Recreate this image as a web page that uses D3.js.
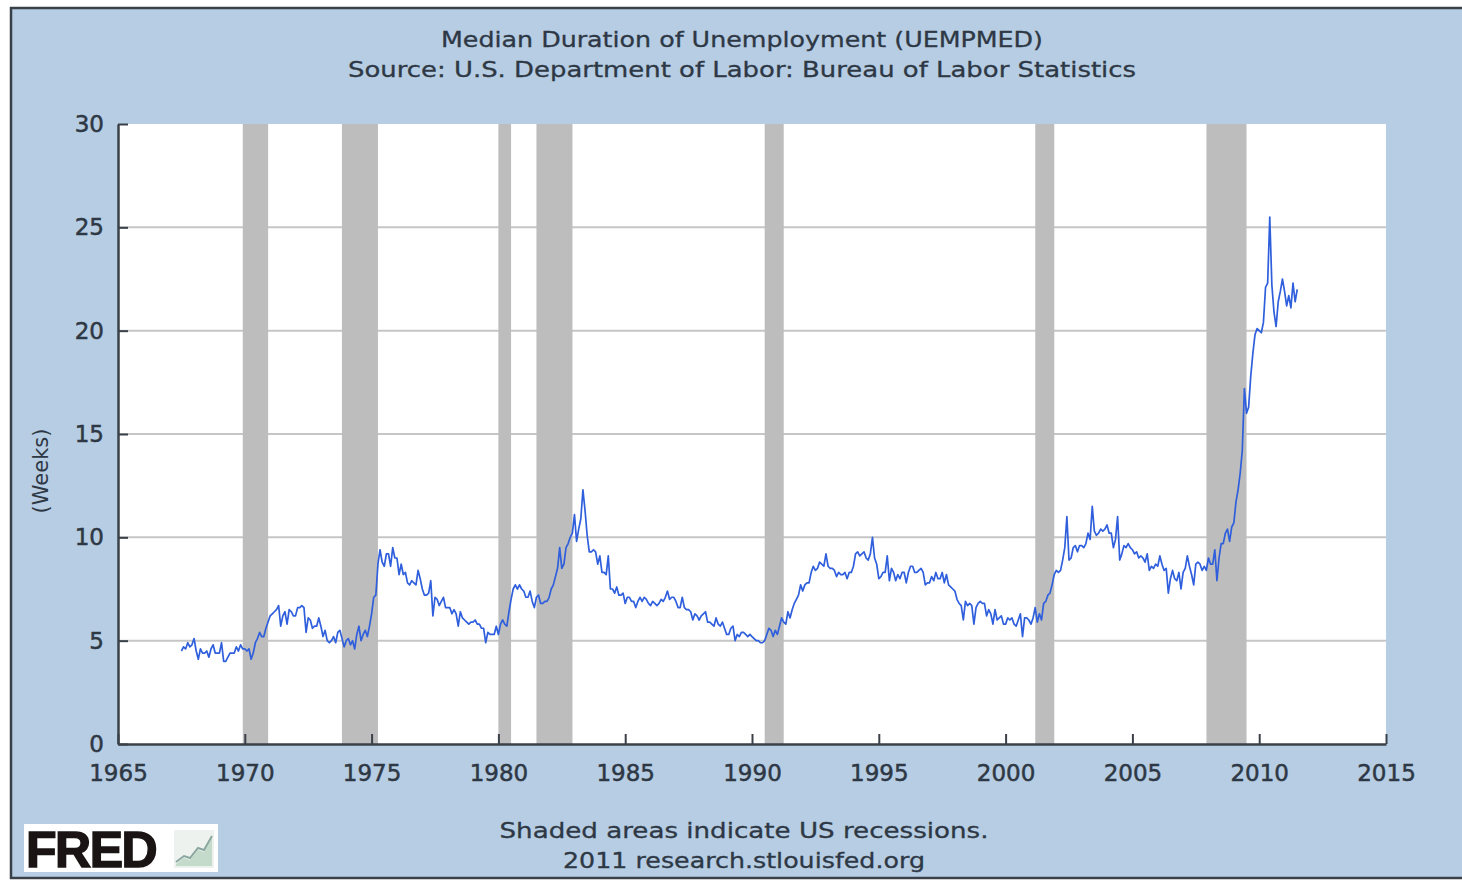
<!DOCTYPE html>
<html>
<head>
<meta charset="utf-8">
<script src="https://cdn.jsdelivr.net/npm/d3@7"></script>
<style>
  html, body { margin: 0; padding: 0; background: #ffffff; }
  svg { display: block; }
</style>
</head>
<body>
<svg id="chart" width="1462" height="880"></svg>
<script>
// ---------------- DATA ----------------
const titleText = "Median Duration of Unemployment (UEMPMED)";
const sourceText = "Source: U.S. Department of Labor: Bureau of Labor Statistics";
const yLabel = "(Weeks)";
const footer1 = "Shaded areas indicate US recessions.";
const footer2 = "2011 research.stlouisfed.org";

const startYear = 1967, startMonth = 7; // first observation: July 1967
const weeks = [
  4.5, 4.7, 4.6, 4.9, 4.7, 4.8,                                  // 1967 Jul-Dec
  5.1, 4.5, 4.1, 4.6, 4.4, 4.4, 4.5, 4.2, 4.6, 4.8, 4.4, 4.4,    // 1968
  4.4, 4.9, 4.0, 4.0, 4.2, 4.4, 4.4, 4.4, 4.7, 4.5, 4.8, 4.6,    // 1969
  4.6, 4.5, 4.6, 4.1, 4.4, 4.9, 5.1, 5.4, 5.2, 5.2, 5.6, 5.9,    // 1970
  6.2, 6.3, 6.4, 6.5, 6.7, 5.7, 6.2, 6.4, 5.8, 6.5, 6.4, 6.2,    // 1971
  6.2, 6.6, 6.6, 6.7, 6.6, 5.4, 6.1, 6.0, 5.6, 5.7, 5.7, 6.1,    // 1972
  5.7, 5.2, 5.5, 5.0, 4.9, 5.0, 5.2, 4.9, 5.4, 5.5, 5.1, 4.7,    // 1973
  5.0, 5.1, 4.8, 5.0, 4.6, 5.3, 5.7, 5.0, 5.3, 5.5, 5.2, 5.7,    // 1974
  6.3, 7.1, 7.2, 8.7, 9.4, 8.8, 8.6, 9.2, 9.2, 8.6, 9.5, 9.0,    // 1975
  9.0, 8.2, 8.7, 8.2, 8.3, 7.8, 7.7, 7.9, 7.8, 7.7, 8.4, 8.0,    // 1976
  7.5, 7.2, 7.2, 7.3, 7.9, 6.2, 7.1, 7.0, 6.7, 6.9, 7.1, 6.6,    // 1977
  6.6, 6.6, 6.3, 6.5, 6.3, 5.7, 6.4, 6.1, 6.0, 5.9, 5.8, 5.9,    // 1978
  5.9, 6.0, 5.8, 5.8, 5.6, 5.6, 4.9, 5.4, 5.3, 5.3, 5.3, 5.7,    // 1979
  5.3, 5.8, 6.0, 5.8, 5.7, 6.4, 7.0, 7.5, 7.7, 7.5, 7.7, 7.5,    // 1980
  7.4, 7.1, 7.1, 7.4, 6.9, 6.6, 7.1, 7.2, 6.8, 6.8, 6.9, 6.9,    // 1981
  7.1, 7.5, 7.7, 8.1, 8.5, 9.5, 8.5, 8.7, 9.5, 9.7, 10.0, 10.2,  // 1982
  11.1, 9.8, 10.4, 10.9, 12.3, 11.3, 10.1, 9.3, 9.3, 9.4, 9.3, 8.7, // 1983
  9.1, 8.3, 8.3, 8.2, 9.1, 7.5, 7.5, 7.3, 7.6, 7.2, 7.2, 7.3,    // 1984
  6.8, 7.1, 7.1, 6.9, 6.9, 6.6, 6.9, 7.1, 6.9, 7.1, 7.0, 6.8,    // 1985
  6.7, 6.9, 6.8, 6.7, 6.8, 7.0, 6.9, 7.1, 7.4, 7.0, 7.1, 7.1,    // 1986
  6.9, 6.6, 6.6, 7.1, 6.6, 6.5, 6.5, 6.4, 6.0, 6.3, 6.2, 6.0,    // 1987
  6.2, 6.3, 6.4, 5.9, 5.9, 5.8, 5.7, 6.1, 5.8, 5.7, 5.9, 5.6,    // 1988
  5.3, 5.3, 5.6, 5.7, 5.0, 5.3, 5.2, 5.4, 5.4, 5.3, 5.2, 5.3,    // 1989
  5.2, 5.1, 5.0, 5.0, 4.9, 4.9, 5.0, 5.3, 5.6, 5.5, 5.2, 5.5,    // 1990
  5.3, 5.7, 6.1, 5.9, 5.8, 6.4, 6.1, 6.5, 6.8, 7.0, 7.2, 7.7,    // 1991
  7.4, 7.7, 7.8, 7.8, 8.3, 8.6, 8.4, 8.5, 8.8, 8.7, 8.6, 9.2,    // 1992
  8.6, 8.5, 8.5, 8.4, 8.1, 8.3, 8.2, 8.2, 8.3, 8.0, 8.3, 8.3,    // 1993
  8.6, 9.2, 9.3, 9.1, 9.2, 9.3, 9.0, 8.9, 9.2, 10.0, 9.0, 8.7,   // 1994
  8.0, 8.1, 8.3, 8.3, 9.1, 7.9, 8.5, 8.3, 7.9, 8.2, 8.0, 8.3,    // 1995
  8.3, 7.8, 8.3, 8.6, 8.6, 8.3, 8.3, 8.4, 8.5, 8.3, 7.7, 7.8,    // 1996
  7.8, 8.1, 7.9, 8.3, 8.0, 8.0, 8.3, 7.8, 8.2, 7.7, 7.6, 7.5,    // 1997
  7.4, 7.0, 6.8, 6.7, 6.0, 6.9, 6.7, 6.8, 6.7, 5.8, 6.6, 6.8,    // 1998
  6.9, 6.8, 6.8, 6.2, 6.5, 6.3, 5.8, 6.5, 6.0, 6.1, 6.2, 5.8,    // 1999
  5.8, 6.1, 6.0, 6.1, 5.8, 5.7, 6.0, 6.3, 5.2, 6.1, 6.1, 6.0,    // 2000
  5.8, 6.1, 6.6, 5.9, 6.3, 6.0, 6.8, 6.9, 7.2, 7.3, 7.7, 8.2,    // 2001
  8.4, 8.3, 8.4, 8.9, 9.5, 11.0, 8.9, 9.0, 9.5, 9.6, 9.3, 9.6,   // 2002
  9.6, 9.5, 9.7, 10.2, 9.9, 11.5, 10.3, 10.1, 10.2, 10.4, 10.3, 10.4, // 2003
  10.6, 10.2, 10.2, 9.5, 9.9, 11.0, 8.9, 9.2, 9.6, 9.5, 9.7, 9.5, // 2004
  9.4, 9.2, 9.3, 9.0, 9.1, 9.0, 8.8, 9.2, 8.4, 8.6, 8.5, 8.7,    // 2005
  8.6, 9.1, 8.7, 8.4, 8.5, 7.3, 8.0, 8.4, 8.0, 7.9, 8.3, 7.5,    // 2006
  8.3, 8.5, 9.1, 8.6, 8.2, 7.7, 8.7, 8.8, 8.7, 8.4, 8.6, 8.4,    // 2007
  9.0, 8.7, 8.7, 9.4, 7.9, 9.0, 9.7, 9.7, 10.2, 10.4, 9.8, 10.5, // 2008
  10.7, 11.7, 12.3, 13.1, 14.2, 17.2, 16.0, 16.3, 17.8, 18.9, 19.8, 20.1, // 2009
  20.0, 19.9, 20.4, 22.1, 22.3, 25.5, 22.2, 20.9, 20.2, 21.4, 21.9, 22.5, // 2010
  21.9, 21.2, 21.7, 21.1, 22.3, 21.4, 22.0                        // 2011 Jan-Jul
];

// NBER recessions [start, end] as decimal years
const recessions = [
  [1969.92, 1970.92], [1973.83, 1975.25], [1980.0, 1980.5],
  [1981.5, 1982.92], [1990.5, 1991.25], [2001.17, 2001.92], [2007.92, 2009.5]
];

const xTicks = [1965, 1970, 1975, 1980, 1985, 1990, 1995, 2000, 2005, 2010, 2015];
const yTicks = [0, 5, 10, 15, 20, 25, 30];
const gridValues = [5, 10, 15, 20, 25];

// ---------------- LAYOUT ----------------
const svg = d3.select("#chart");
const plot = { left: 118, right: 1386, top: 124, bottom: 744 };
const textColor = "#2e3845";
const font = "'DejaVu Sans', sans-serif";

// background frame
svg.append("rect").attr("x", 11).attr("y", 8).attr("width", 1470).attr("height", 870)
  .attr("fill", "#b6cde3").attr("stroke", "#3a4048").attr("stroke-width", 2.5);

const x = d3.scaleLinear().domain([1965, 2015]).range([plot.left, plot.right]);
const y = d3.scaleLinear().domain([0, 30]).range([plot.bottom, plot.top]);

// plot background
svg.append("rect")
  .attr("x", x(1965)).attr("y", y(30))
  .attr("width", x(2015) - x(1965)).attr("height", y(0) - y(30))
  .attr("fill", "#ffffff");

// gridlines
svg.append("g").selectAll("line").data(gridValues).join("line")
  .attr("x1", x(1965)).attr("x2", x(2015))
  .attr("y1", d => y(d)).attr("y2", d => y(d))
  .attr("stroke", "#c6c6c6").attr("stroke-width", 2);

// recession shading
svg.append("g").selectAll("rect").data(recessions).join("rect")
  .attr("x", d => x(d[0])).attr("width", d => x(d[1]) - x(d[0]))
  .attr("y", y(30)).attr("height", y(0) - y(30))
  .attr("fill", "#bdbdbd");

// data line
const series = weeks.map((v, i) => ({ t: startYear + (startMonth - 1 + i) / 12, v }));
svg.append("path").datum(series)
  .attr("fill", "none").attr("stroke", "#2f5fdc").attr("stroke-width", 1.7)
  .attr("stroke-linejoin", "round")
  .attr("d", d3.line().x(d => x(d.t)).y(d => y(d.v)));

// axes
const yAxis = svg.append("g").attr("transform", `translate(${plot.left},0)`)
  .call(d3.axisLeft(y).tickValues(yTicks).tickFormat(d3.format("d")).tickSize(-10).tickSizeOuter(0).tickPadding(14));
const xAxis = svg.append("g").attr("transform", `translate(0,${plot.bottom})`)
  .call(d3.axisBottom(x).tickValues(xTicks).tickFormat(d3.format("d")).tickSize(-10).tickSizeOuter(0).tickPadding(21));
[yAxis, xAxis].forEach(a => {
  a.select(".domain").attr("stroke", "#3a4048").attr("stroke-width", 2.5);
  a.selectAll(".tick line").attr("stroke", "#3a4048").attr("stroke-width", 2);
  a.selectAll("text").attr("fill", textColor).attr("font-family", font).attr("font-size", 23)
    .attr("stroke", textColor).attr("stroke-width", 0.5);
});
xAxis.selectAll("text").attr("dy", "0.71em");

// titles
const cx = 742;
svg.append("text").attr("x", cx).attr("y", 47).attr("text-anchor", "middle")
  .attr("font-family", font).attr("font-size", 21).attr("fill", textColor)
  .attr("stroke", textColor).attr("stroke-width", 0.3)
  .attr("textLength", 602).attr("lengthAdjust", "spacingAndGlyphs").text(titleText);
svg.append("text").attr("x", cx).attr("y", 77).attr("text-anchor", "middle")
  .attr("font-family", font).attr("font-size", 21).attr("fill", textColor)
  .attr("stroke", textColor).attr("stroke-width", 0.3)
  .attr("textLength", 788).attr("lengthAdjust", "spacingAndGlyphs").text(sourceText);

// y label
svg.append("text").attr("transform", `translate(48,${471}) rotate(-90)`).attr("text-anchor", "middle")
  .attr("font-family", font).attr("font-size", 21).attr("fill", textColor).text(yLabel);

// footers
svg.append("text").attr("x", cx + 2).attr("y", 838).attr("text-anchor", "middle")
  .attr("font-family", font).attr("font-size", 21).attr("fill", textColor)
  .attr("stroke", textColor).attr("stroke-width", 0.3)
  .attr("textLength", 489).attr("lengthAdjust", "spacingAndGlyphs").text(footer1);
svg.append("text").attr("x", cx + 2).attr("y", 868).attr("text-anchor", "middle")
  .attr("font-family", font).attr("font-size", 21).attr("fill", textColor)
  .attr("stroke", textColor).attr("stroke-width", 0.3)
  .attr("textLength", 362).attr("lengthAdjust", "spacingAndGlyphs").text(footer2);

// FRED logo
const logo = svg.append("g").attr("transform", "translate(24,824)");
logo.append("rect").attr("width", 194).attr("height", 48).attr("fill", "#ffffff");
logo.append("text").attr("x", 2).attr("y", 43)
  .attr("font-family", "'Liberation Sans', Arial, sans-serif").attr("font-weight", "bold")
  .attr("font-size", 50).attr("fill", "#1a1414").attr("stroke", "#1a1414").attr("stroke-width", 1.5)
  .attr("letter-spacing", -1.5).text("FRED");
const icon = logo.append("g").attr("transform", "translate(150,6)");
icon.append("rect").attr("width", 40).attr("height", 38).attr("fill", "#eef2ee");
icon.append("path").attr("d", "M2,34 L10,28 L16,30 L24,20 L30,22 L38,8 L38,36 L2,36 Z")
  .attr("fill", "#b9d3c0").attr("opacity", 0.8);
icon.append("path").attr("d", "M2,32 L10,26 L16,28 L24,18 L30,20 L38,6")
  .attr("fill", "none").attr("stroke", "#8aa8a0").attr("stroke-width", 2);
</script>
</body>
</html>
